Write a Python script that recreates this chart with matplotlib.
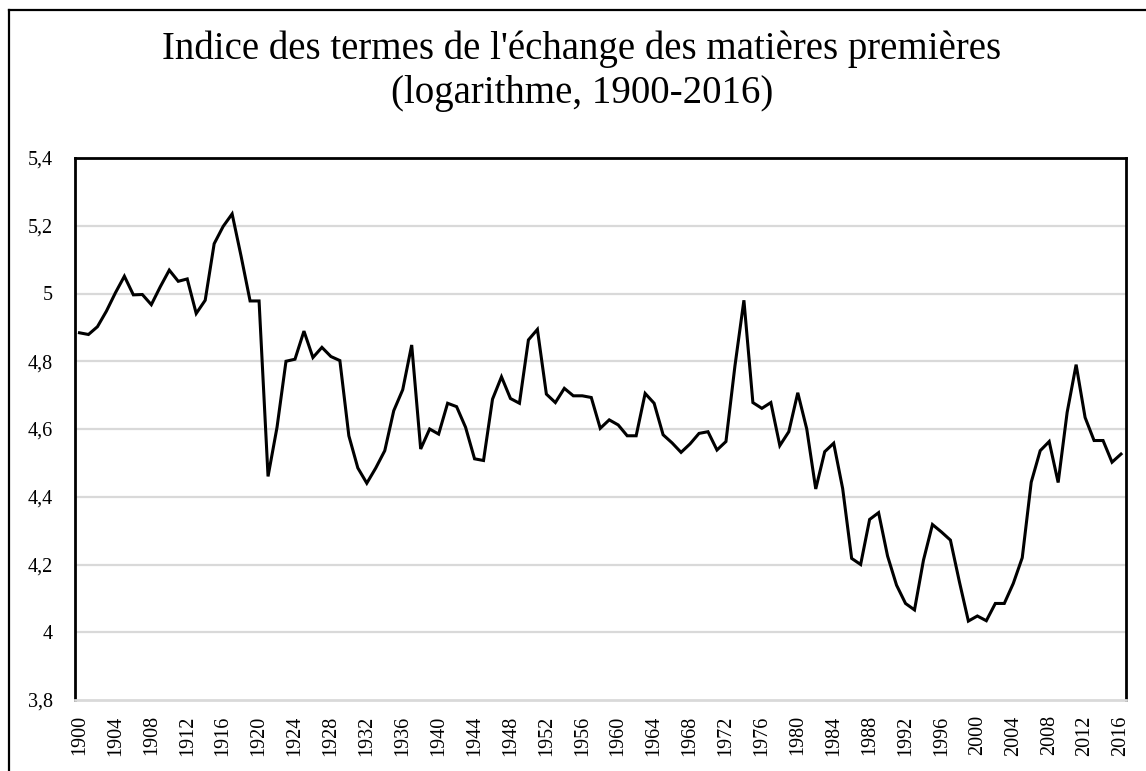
import matplotlib
matplotlib.use("Agg")
from matplotlib import pyplot as plt
from matplotlib.lines import Line2D

years = list(range(1900, 2017))
values = [
    4.884, 4.879, 4.902, 4.948, 5.002, 5.051, 4.996, 4.997, 4.967, 5.020,  # 1900-1909
    5.069, 5.036, 5.043, 4.941, 4.980, 5.147, 5.198, 5.235, 5.110, 4.978,  # 1910-1919
    4.978, 4.460, 4.605, 4.800, 4.806, 4.889, 4.811, 4.841, 4.814, 4.802,  # 1920-1929
    4.580, 4.485, 4.440, 4.485, 4.536, 4.654, 4.716, 4.848, 4.541, 4.600,  # 1930-1939
    4.585, 4.676, 4.666, 4.605, 4.512, 4.507, 4.688, 4.754, 4.690, 4.676,  # 1940-1949
    4.863, 4.894, 4.703, 4.678, 4.720, 4.698, 4.698, 4.693, 4.602, 4.627,  # 1950-1959
    4.612, 4.580, 4.580, 4.705, 4.676, 4.583, 4.559, 4.531, 4.556, 4.587,  # 1960-1969
    4.592, 4.538, 4.563, 4.786, 4.980, 4.678, 4.661, 4.678, 4.551, 4.592,  # 1970-1979
    4.707, 4.600, 4.423, 4.533, 4.558, 4.424, 4.218, 4.200, 4.333, 4.353,  # 1980-1989
    4.225, 4.139, 4.085, 4.066, 4.213, 4.318, 4.296, 4.272, 4.149, 4.033,  # 1990-1999
    4.048, 4.034, 4.085, 4.085, 4.144, 4.220, 4.443, 4.536, 4.563, 4.442,  # 2000-2009
    4.649, 4.790, 4.634, 4.566, 4.566, 4.502, 4.526,                       # 2010-2016
]
xtick_years = list(range(1900, 2017, 4))
ytick_vals = [3.8, 4.0, 4.2, 4.4, 4.6, 4.8, 5.0, 5.2, 5.4]
ytick_labels = ['3,8', '4', '4,2', '4,4', '4,6', '4,8', '5', '5,2', '5,4']
title1 = "Indice des termes de l'échange des matières premières"
title2 = "(logarithme, 1900-2016)"

plt.rcParams['font.family'] = ['Liberation Serif', 'DejaVu Serif']
W, H = 1146, 771
fig = plt.figure(figsize=(W / 100, H / 100), dpi=100)

# outer chart border (left and top visible)
fig.add_artist(Line2D([9 / W, 9 / W], [0, 1 - 10 / H], transform=fig.transFigure, color='black', lw=1.6))
fig.add_artist(Line2D([9 / W, 1], [1 - 10 / H, 1 - 10 / H], transform=fig.transFigure, color='black', lw=1.6))

ax = fig.add_axes([75 / W, 1 - 700 / H, (1125.5 - 75) / W, (700 - 158) / H])
ax.plot(years, values, color='black', lw=2.2, solid_joinstyle='miter', zorder=3)

ax.set_xlim(1899.5, 2016.5)
ax.set_ylim(3.8, 5.4)
ax.set_xticks(xtick_years)
ax.set_xticklabels([str(y) for y in xtick_years], rotation=90, fontsize=14.5)
ax.set_yticks(ytick_vals)
ax.set_yticklabels(ytick_labels, fontsize=14.5)
ax.tick_params(axis='both', length=0)
ax.tick_params(axis='x', pad=11)
ax.tick_params(axis='y', pad=16)

for v in ytick_vals[1:-1]:
    ax.axhline(v, color='#d9d9d9', lw=1.6, zorder=1)

for s in ['left', 'top', 'right']:
    ax.spines[s].set_color('black')
    ax.spines[s].set_linewidth(2)
ax.spines['bottom'].set_color('#d9d9d9')
ax.spines['bottom'].set_linewidth(2)

fig.text(582 / W, 1 - 59 / H, title1, ha='center', va='baseline', fontsize=28)
fig.text(582 / W, 1 - 103 / H, title2, ha='center', va='baseline', fontsize=28)

fig.savefig('out.png', dpi=100)
